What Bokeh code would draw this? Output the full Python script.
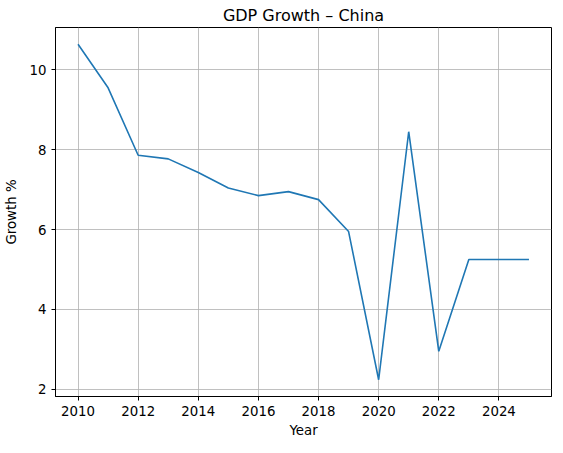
from bokeh.plotting import figure
from bokeh.embed import file_html
from bokeh.resources import INLINE
from bokeh.models import Range1d, FixedTicker

years = list(range(2010, 2026))
growth = [10.64, 9.55, 7.86, 7.77, 7.43, 7.04, 6.85, 6.95, 6.75, 5.95, 2.24, 8.45, 2.95, 5.25, 5.25, 5.25]
x_ticks = [2010, 2012, 2014, 2016, 2018, 2020, 2022, 2024]
y_ticks = [2, 4, 6, 8, 10]

p = figure(frame_width=496, frame_height=369, output_backend="svg", toolbar_location=None,
           title="GDP Growth – China", x_range=Range1d(2009.25, 2025.75), y_range=Range1d(1.82, 11.06),
           min_border_left=51, min_border_right=4, min_border_bottom=45, min_border_top=4)
p.line(years, growth, line_color="#1f77b4", line_width=1.6)

p.title.align = "center"
p.title.text_font = "DejaVu Sans"
p.title.text_font_size = "12pt"
p.title.text_font_style = "normal"
p.title.text_color = "black"
p.title.standoff = 6

for ax in (p.xaxis, p.yaxis):
    ax.major_label_text_font = "DejaVu Sans"
    ax.major_label_text_font_size = "10pt"
    ax.axis_label_text_font = "DejaVu Sans"
    ax.axis_label_text_font_size = "10pt"
    ax.axis_label_text_font_style = "normal"
    ax.minor_tick_line_color = None
    ax.major_tick_in = 0
    ax.major_tick_out = 4
    ax.axis_line_color = "black"
    ax.major_tick_line_color = "black"
    ax.major_label_text_color = "black"
    ax.axis_label_text_color = "black"
p.xaxis.ticker = FixedTicker(ticks=x_ticks)
p.yaxis.ticker = FixedTicker(ticks=y_ticks)
p.xaxis.axis_label = "Year"
p.yaxis.axis_label = "Growth %"
p.xaxis.axis_label_standoff = 4
p.yaxis.axis_label_standoff = 8
p.grid.grid_line_color = "#b0b0b0"
p.grid.grid_line_alpha = 1.0
p.grid.grid_line_width = 0.8
p.outline_line_color = "black"
p.outline_line_alpha = 1.0

open("out.html", "w").write(file_html(p, INLINE))
